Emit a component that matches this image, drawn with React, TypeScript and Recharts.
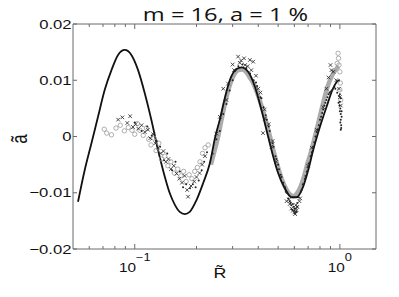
import React from "react";
import { ComposedChart, Line, Scatter, XAxis, YAxis } from "recharts";

// model curve (R~, a~)
const curveR = [0.0529, 0.057, 0.0615, 0.0662, 0.0714, 0.077, 0.0829, 0.0894, 0.0963, 0.1038, 0.1119, 0.1206, 0.1299, 0.14, 0.1482, 0.1567, 0.1657, 0.1753, 0.1854, 0.2, 0.2154, 0.2322, 0.247, 0.2598, 0.2748, 0.2906, 0.3133, 0.3315, 0.357, 0.3849, 0.415, 0.4468, 0.4727, 0.5, 0.5391, 0.5811, 0.6149, 0.6622, 0.7006, 0.7412, 0.799, 0.8613, 0.9275, 0.981, 1.0];
const curveA = [-0.0116, -0.006, -0.0012, 0.0035, 0.0083, 0.0118, 0.0145, 0.0154, 0.0145, 0.0118, 0.0077, 0.0029, -0.0024, -0.0071, -0.0101, -0.0121, -0.0134, -0.0138, -0.0134, -0.0113, -0.0083, -0.0048, 0.0, 0.003, 0.0068, 0.01, 0.012, 0.0123, 0.0115, 0.0089, 0.0047, 0.0, -0.0035, -0.0065, -0.0092, -0.0108, -0.0108, -0.0089, -0.006, -0.0024, 0.0017, 0.0053, 0.0086, 0.0099, 0.01];

// dense grey band of overlapping samples
const bandR = [0.235, 0.245, 0.255, 0.265, 0.275, 0.29, 0.305, 0.32, 0.335, 0.35, 0.365, 0.38, 0.4, 0.42, 0.44, 0.46, 0.48, 0.5, 0.52, 0.545, 0.57, 0.595, 0.62, 0.645, 0.67, 0.695, 0.72, 0.75, 0.78, 0.81, 0.84, 0.87, 0.9, 0.93, 0.96, 0.985];
const bandA = [-0.005, -0.0025, 0.0, 0.003, 0.0058, 0.009, 0.011, 0.0118, 0.0119, 0.0114, 0.0104, 0.0093, 0.0072, 0.0048, 0.0022, -0.0005, -0.0032, -0.0055, -0.0075, -0.0092, -0.0103, -0.0106, -0.01, -0.0088, -0.007, -0.0048, -0.003, -0.0005, 0.002, 0.0045, 0.0068, 0.0088, 0.0102, 0.0113, 0.012, 0.0125];

// open grey circles
const circR = [0.071, 0.073, 0.077, 0.081, 0.085, 0.089, 0.093, 0.097, 0.1, 0.103, 0.106, 0.11, 0.114, 0.117, 0.12, 0.124, 0.127, 0.131, 0.135, 0.14, 0.145, 0.15, 0.156, 0.162, 0.168, 0.173, 0.178, 0.184, 0.19, 0.196, 0.202, 0.208, 0.214, 0.22, 0.228, 0.97, 0.98, 0.985, 0.99, 1.0, 1.005, 1.0, 1.01];
const circA = [0.0013, 0.0006, 0.0003, 0.0015, 0.002, 0.001, 0.0016, 0.0011, 0.0004, 0.0023, 0.0011, 0.0002, 0.0015, -0.0005, -0.0015, -0.0003, -0.0025, -0.0012, -0.004, -0.0035, -0.0052, -0.0045, -0.0065, -0.0058, -0.007, -0.0062, -0.008, -0.0068, -0.0075, -0.0062, -0.0055, -0.0045, -0.003, -0.002, -0.0015, 0.013, 0.0148, 0.0139, 0.0127, 0.0115, 0.0095, 0.0083, 0.0065];

// black crosses
const crossR = [0.083, 0.087, 0.092, 0.095, 0.098, 0.101, 0.104, 0.108, 0.112, 0.116, 0.119, 0.123, 0.126, 0.13, 0.134, 0.138, 0.142, 0.146, 0.15, 0.155, 0.16, 0.165, 0.17, 0.175, 0.18, 0.182, 0.188, 0.195, 0.2, 0.207, 0.213, 0.22, 0.25, 0.26, 0.27, 0.28, 0.285, 0.3, 0.305, 0.319, 0.325, 0.33, 0.341, 0.345, 0.355, 0.364, 0.37, 0.378, 0.39, 0.4, 0.41, 0.422, 0.43, 0.431, 0.45, 0.464, 0.47, 0.49, 0.55, 0.565, 0.57, 0.58, 0.59, 0.6, 0.605, 0.61, 0.615, 0.62, 0.635, 0.64, 0.7, 0.73, 0.77, 0.83, 0.86, 0.88, 0.9, 0.91, 0.93, 0.96, 0.99, 1.0, 1.01];
const crossA = [0.003, 0.0034, 0.0024, 0.0036, 0.0017, 0.0022, 0.0014, 0.002, 0.0008, 0.0012, -0.0003, 0.0004, -0.0012, -0.002, -0.003, -0.0026, -0.0045, -0.004, -0.0058, -0.0052, -0.0066, -0.0075, -0.0082, -0.007, -0.0095, -0.0107, -0.0088, -0.008, -0.0072, -0.0065, -0.005, -0.0035, 0.0005, 0.0035, 0.0085, 0.0065, 0.0094, 0.0128, 0.0118, 0.0142, 0.0131, 0.0135, 0.0139, 0.0127, 0.0125, 0.0136, 0.0118, 0.0133, 0.0108, 0.0085, 0.0078, 0.0006, 0.0048, 0.0032, 0.0022, -0.0018, -0.0008, -0.0045, -0.0115, -0.0112, -0.012, -0.0128, -0.0132, -0.0135, -0.0138, -0.0122, -0.0131, -0.0125, -0.0115, -0.011, -0.0052, -0.002, 0.0012, 0.0052, 0.0085, 0.0105, 0.0127, 0.0118, 0.0115, 0.01, 0.0085, 0.007, 0.0055];

// small black dots
const dotR = [0.1, 0.108, 0.115, 0.121, 0.128, 0.133, 0.139, 0.144, 0.152, 0.158, 0.166, 0.172, 0.178, 0.186, 0.192, 0.198, 0.205, 0.212, 0.218, 0.225, 0.24, 0.25, 0.26, 0.27, 0.28, 0.29, 0.3, 0.31, 0.32, 0.335, 0.35, 0.365, 0.38, 0.39, 0.395, 0.41, 0.415, 0.425, 0.435, 0.44, 0.45, 0.455, 0.47, 0.475, 0.485, 0.49, 0.5, 0.505, 0.515, 0.52, 0.53, 0.54, 0.545, 0.55, 0.56, 0.57, 0.575, 0.58, 0.585, 0.59, 0.595, 0.6, 0.6, 0.605, 0.61, 0.615, 0.62, 0.62, 0.63, 0.645, 0.65, 0.66, 0.675, 0.68, 0.69, 0.7, 0.705, 0.72, 0.73, 0.74, 0.75, 0.76, 0.77, 0.78, 0.79, 0.8, 0.81, 0.82, 0.83, 0.84, 0.85, 0.86, 0.87, 0.88, 0.89, 0.9, 0.92, 0.94, 0.95, 0.97, 0.99, 0.995, 1.0, 1.0, 1.005, 1.005, 1.01, 1.01, 1.01, 1.015, 1.015, 1.01, 1.0, 0.985, 1.02, 1.02];
const dotA = [0.0025, 0.001, 0.0018, 0.0002, -0.0008, -0.0018, -0.0042, -0.003, -0.006, -0.0045, -0.0062, -0.009, -0.0085, -0.0092, -0.0085, -0.009, -0.0078, -0.006, -0.0045, -0.0028, -0.003, -0.0005, 0.001, 0.004, 0.0058, 0.0082, 0.01, 0.0118, 0.0125, 0.0128, 0.0122, 0.0112, 0.01, 0.0096, 0.009, 0.007, 0.0068, 0.0052, 0.0038, 0.003, 0.0018, 0.001, -0.0012, -0.0018, -0.0035, -0.004, -0.005, -0.0058, -0.0068, -0.0072, -0.0082, -0.009, -0.0098, -0.01, -0.011, -0.0115, -0.0118, -0.0122, -0.013, -0.012, -0.0125, -0.0132, -0.0128, -0.0136, -0.0128, -0.0134, -0.0118, -0.0125, -0.0108, -0.0098, -0.0095, -0.0085, -0.0075, -0.007, -0.0062, -0.0055, -0.0048, -0.0035, -0.0028, -0.0018, -0.001, 0.0, 0.0008, 0.0012, 0.002, 0.003, 0.0035, 0.0042, 0.0048, 0.0055, 0.006, 0.0065, 0.007, 0.0075, 0.0078, 0.008, 0.0083, 0.0088, 0.0085, 0.0078, 0.0072, 0.0055, 0.0062, 0.0075, 0.005, 0.0025, 0.004, 0.003, 0.0068, 0.002, 0.0015, 0.0012, 0.0045, 0.006, 0.0035, 0.0045];

const xTicks = [0.06, 0.07, 0.08, 0.09, 0.1, 0.2, 0.3, 0.4, 0.5, 0.6, 0.7, 0.8, 0.9, 1];
const yTicks = [-0.02, -0.01, 0, 0.01, 0.02];

const pts = (xs: number[], ys: number[]) => xs.map((x, i) => ({ x, y: ys[i] }));
const curve = pts(curveR, curveA);
const band = pts(bandR, bandA);
const circles = pts(circR, circA);
const crosses = pts(crossR, crossA);
const dots = pts(dotR, dotA);

const AXIS = "#6a6a6a";
const FONT = "'Liberation Sans', Arial, sans-serif";
const SX = 1.28; // the original figure is stretched sideways

const isMajor = (v: number) => v === 0.1 || v === 1;

const BottomTick = ({ x, y, payload }: any) => {
  const v = payload.value;
  return (
    <g>
      <line x1={x} x2={x} y1={y} y2={y - (isMajor(v) ? 5 : 3)} stroke={AXIS} />
      {isMajor(v) && (
        <g transform={`translate(${x},${y + 22.7}) scale(${SX},1)`}>
          <text textAnchor="middle" fontFamily={FONT} fontSize={12} fill="#111">
            10
            <tspan dy={-11} fontSize={10}>{v === 1 ? "0" : "\u22121"}</tspan>
          </text>
        </g>
      )}
    </g>
  );
};

const TopTick = ({ x, y, payload }: any) => (
  <line x1={x} x2={x} y1={y} y2={y + (isMajor(payload.value) ? 5 : 3)} stroke={AXIS} />
);

const fmtY = (v: number) => (v === 0 ? "0" : v < 0 ? "\u2212" + Math.abs(v).toFixed(2) : v.toFixed(2));

const LeftTick = ({ x, y, payload }: any) => (
  <g>
    <line x1={x} x2={x + 4} y1={y} y2={y} stroke={AXIS} />
    <g transform={`translate(${x - 1.5},${y + 4.6}) scale(${SX},1)`}>
      <text textAnchor="end" fontFamily={FONT} fontSize={13} fill="#111">
        {fmtY(payload.value)}
      </text>
    </g>
  </g>
);

const RightTick = ({ x, y }: any) => <line x1={x} x2={x - 4} y1={y} y2={y} stroke={AXIS} />;

const Cross = ({ cx, cy }: any) => (
  <path d={`M${cx - 1.8},${cy - 1.8}L${cx + 1.8},${cy + 1.8}M${cx - 1.8},${cy + 1.8}L${cx + 1.8},${cy - 1.8}`} stroke="#222" strokeWidth={0.8} fill="none" />
);
const Ring = ({ cx, cy }: any) => <circle cx={cx} cy={cy} r={2.2} stroke="#9a9a9a" strokeWidth={0.8} fill="none" />;
const Dot = ({ cx, cy }: any) => <circle cx={cx} cy={cy} r={1} fill="#222" />;

export default function App() {
  return (
    <div style={{ position: "absolute", left: 0, top: 0, width: 399, height: 297, background: "#fff" }}>
      <ComposedChart width={399} height={297} margin={{ top: 23, right: 22, bottom: 18, left: 23 }}>
        <XAxis
          dataKey="x"
          type="number"
          scale="log"
          domain={[0.05, 1.5]}
          allowDataOverflow
          ticks={xTicks}
          interval={0}
          height={30}
          tickSize={0}
          tickMargin={0}
          tickLine={false}
          axisLine={{ stroke: AXIS }}
          tick={BottomTick}
        />
        <XAxis
          xAxisId="top"
          orientation="top"
          dataKey="x"
          type="number"
          scale="log"
          domain={[0.05, 1.5]}
          allowDataOverflow
          ticks={xTicks}
          interval={0}
          height={1}
          tickSize={0}
          tickMargin={0}
          tickLine={false}
          axisLine={{ stroke: AXIS }}
          tick={TopTick}
        />
        <YAxis
          dataKey="y"
          type="number"
          domain={[-0.02, 0.02]}
          allowDataOverflow
          ticks={yTicks}
          interval={0}
          width={50}
          tickSize={0}
          tickMargin={0}
          tickLine={false}
          axisLine={{ stroke: AXIS }}
          tick={LeftTick}
        />
        <YAxis
          yAxisId="r"
          orientation="right"
          type="number"
          domain={[-0.02, 0.02]}
          allowDataOverflow
          ticks={yTicks}
          interval={0}
          width={1}
          tickSize={0}
          tickMargin={0}
          tickLine={false}
          axisLine={{ stroke: AXIS }}
          tick={RightTick}
        />
        <Line data={band} dataKey="y" type="monotone" dot={false} stroke="#ababab" strokeWidth={4.5} isAnimationActive={false} />
        <Scatter data={circles} dataKey="y" shape={Ring} isAnimationActive={false} />
        <Scatter data={crosses} dataKey="y" shape={Cross} isAnimationActive={false} />
        <Scatter data={dots} dataKey="y" shape={Dot} isAnimationActive={false} />
        <Line data={curve} dataKey="y" type="monotone" dot={false} stroke="#111" strokeWidth={1.8} isAnimationActive={false} />
      </ComposedChart>
      <svg width={399} height={297} style={{ position: "absolute", left: 0, top: 0, pointerEvents: "none" }}>
        <g transform={`translate(225.5,20.7) scale(${SX},1)`}>
          <text textAnchor="middle" fontFamily="'Open Sans', sans-serif" fontSize={18.5} fill="#111">
            m = 16, a = 1 %
          </text>
        </g>
        <g transform={`translate(26.5,139) scale(${SX},1) rotate(-90)`}>
          <text textAnchor="middle" fontFamily={FONT} fontSize={17} fill="#111">
            {"\u00e3"}
          </text>
        </g>
        <g transform={`translate(220,278) scale(${SX},1)`}>
          <text textAnchor="middle" fontFamily={FONT} fontSize={14} fill="#111">
            {"R\u0303"}
          </text>
        </g>
      </svg>
    </div>
  );
}
